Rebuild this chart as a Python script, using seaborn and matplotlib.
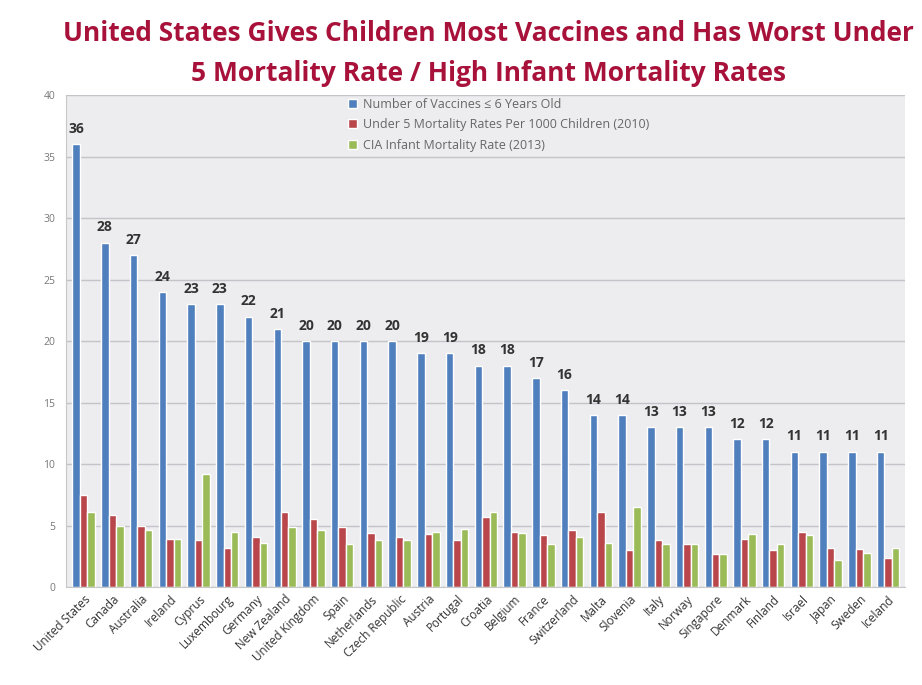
import pandas as pd
import numpy as np
import matplotlib
matplotlib.use("Agg")
import matplotlib.pyplot as plt
import seaborn as sns

# Dados
paises = ['United States', 'Canada', 'Australia', 'Ireland', 'Cyprus', 'Luxembourg',
          'Germany', 'New Zealand', 'United Kingdom', 'Spain', 'Netherlands',
          'Czech Republic', 'Austria', 'Portugal', 'Croatia', 'Belgium', 'France',
          'Switzerland', 'Malta', 'Slovenia', 'Italy', 'Norway', 'Singapore',
          'Denmark', 'Finland', 'Israel', 'Japan', 'Sweden', 'Iceland']
vacinas = [36, 28, 27, 24, 23, 23, 22, 21, 20, 20, 20, 20, 19, 19, 18, 18, 17, 16,
           14, 14, 13, 13, 13, 12, 12, 11, 11, 11, 11]
mortalidade_5 = [7.5, 5.9, 5.0, 3.9, 3.8, 3.2, 4.1, 6.1, 5.5, 4.9, 4.4, 4.1, 4.3, 3.8,
                 5.7, 4.5, 4.2, 4.6, 6.1, 3.0, 3.8, 3.5, 2.7, 3.9, 3.0, 4.5, 3.2, 3.1, 2.4]
mortalidade_cia = [6.1, 5.0, 4.6, 3.9, 9.2, 4.5, 3.6, 4.9, 4.6, 3.5, 3.8, 3.8, 4.5, 4.7,
                   6.1, 4.4, 3.5, 4.1, 3.6, 6.5, 3.5, 3.5, 2.7, 4.3, 3.5, 4.2, 2.2, 2.8, 3.2]
series = ['Number of Vaccines ≤ 6 Years Old',
          'Under 5 Mortality Rates Per 1000 Children (2010)',
          'CIA Infant Mortality Rate (2013)']
cores = ['#4F7FBD', '#B8464A', '#9BBB59']

df = pd.DataFrame({'pais': paises * 3,
                   'valor': vacinas + mortalidade_5 + mortalidade_cia,
                   'serie': [series[0]] * len(paises) + [series[1]] * len(paises)
                            + [series[2]] * len(paises)})

sns.set_style("whitegrid")
plt.rcParams['font.family'] = ['Open Sans', 'DejaVu Sans']

fig = plt.figure(figsize=(9.22, 6.85), dpi=100)
ax = fig.add_axes([0.072, 0.143, 0.91, 0.718])
ax.set_facecolor('#EDEDF0')

sns.barplot(data=df, x='pais', y='valor', hue='serie', palette=cores,
            width=0.78, gap=0, saturation=1, ax=ax, legend=True)

ax.set_ylim(0, 40)
ax.set_yticks(range(0, 41, 5))
ax.set_xlim(-0.6, len(paises) - 0.4)
ax.grid(axis='y', color='#C4C4C8', linewidth=1)
ax.grid(axis='x', visible=False)
ax.set_axisbelow(True)
for s in ['top', 'right']:
    ax.spines[s].set_visible(False)
ax.spines['left'].set_color('#C8C8C8')
ax.spines['bottom'].set_color('#C8C8C8')
ax.set_xlabel('')
ax.set_ylabel('')
ax.tick_params(axis='y', labelsize=7.5, labelcolor='#777777', length=0, pad=8)
ax.tick_params(axis='x', labelsize=8.5, labelcolor='#333333', length=0, pad=4)
plt.setp(ax.get_xticklabels(), rotation=45, ha='right', rotation_mode='anchor')

# Rótulos das barras azuis
ax.bar_label(ax.containers[0], fmt='%d', padding=6, fontsize=10,
             fontweight='bold', color='#333333')

leg = ax.legend(loc='upper left', bbox_to_anchor=(0.322, 1.018), fontsize=9,
                frameon=False, handlelength=0.7, handleheight=0.7,
                handletextpad=0.5, labelspacing=0.6)
for t in leg.get_texts():
    t.set_color('#666666')

fig.text(0.53, 0.951, 'United States Gives Children Most Vaccines and Has Worst Under',
         ha='center', va='center', fontsize=19, fontweight='bold', color='#A8123A')
fig.text(0.53, 0.893, '5 Mortality Rate / High Infant Mortality Rates',
         ha='center', va='center', fontsize=19, fontweight='bold', color='#A8123A')

fig.savefig('out.png', dpi=100, facecolor='white')
